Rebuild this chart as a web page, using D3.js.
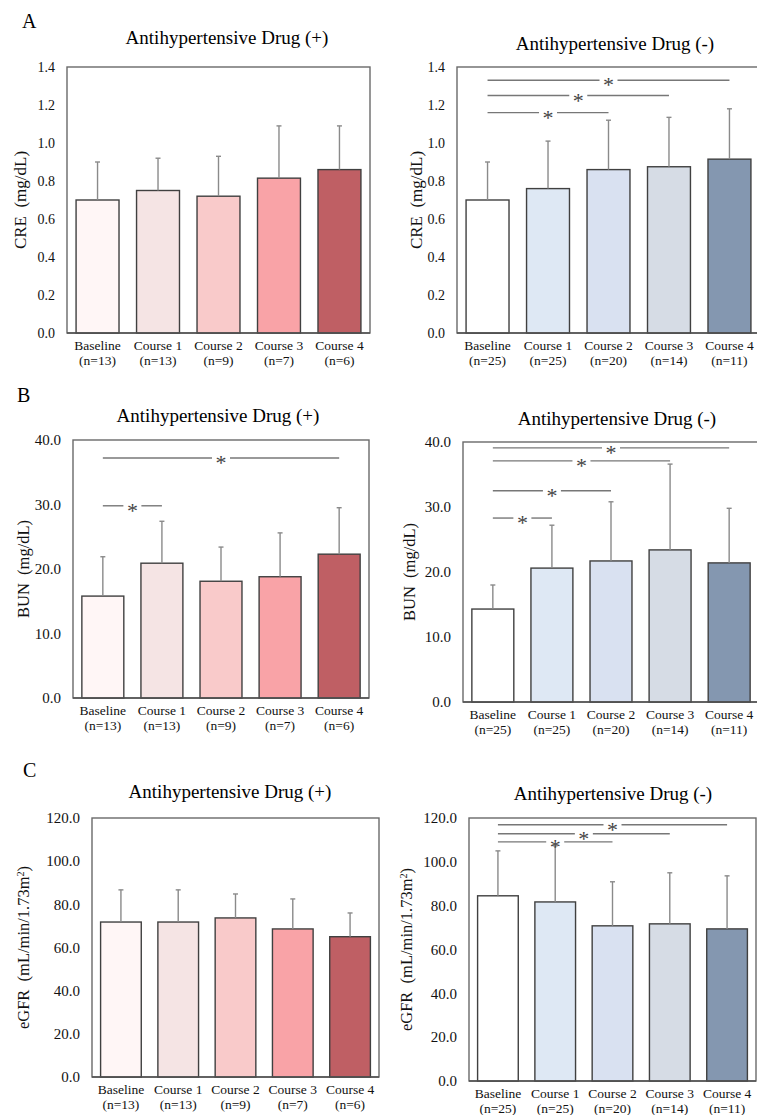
<!DOCTYPE html>
<html>
<head>
<meta charset="utf-8">
<script src="https://cdn.jsdelivr.net/npm/d3@7"></script>
<style>
  body { margin: 0; background: #fff; }
  svg { display: block; font-family: "Liberation Serif", "Times New Roman", serif; }
</style>
</head>
<body>
<svg id="chart"></svg>
<script>
const width = 757;
const height = 1115;

const categories = ['Baseline', 'Course 1', 'Course 2', 'Course 3', 'Course 4'];
const nPlus = ['(n=13)', '(n=13)', '(n=9)', '(n=7)', '(n=6)'];
const nMinus = ['(n=25)', '(n=25)', '(n=20)', '(n=14)', '(n=11)'];

const colorsPlus = ['#fff6f6', '#f5e4e4', '#f9caca', '#f9a3a7', '#bf5f64'];
const colorsMinus = ['#ffffff', '#dee8f4', '#d9e1f1', '#d6dce5', '#8497b0'];

// mean and SD
const crePlusMean = [0.70, 0.75, 0.72, 0.815, 0.86];
const crePlusSd = [0.20, 0.17, 0.21, 0.275, 0.23];
const creMinusMean = [0.70, 0.76, 0.86, 0.875, 0.915];
const creMinusSd = [0.20, 0.25, 0.26, 0.26, 0.265];

const bunPlusMean = [15.8, 20.9, 18.1, 18.8, 22.3];
const bunPlusSd = [6.1, 6.5, 5.3, 6.8, 7.2];
const bunMinusMean = [14.3, 20.6, 21.7, 23.4, 21.4];
const bunMinusSd = [3.7, 6.6, 9.1, 13.2, 8.4];

const egfrPlusMean = [71.8, 71.8, 73.7, 68.6, 65.0];
const egfrPlusSd = [14.9, 14.9, 11.1, 13.9, 11.0];
const egfrMinusMean = [84.5, 81.7, 70.8, 71.7, 69.4];
const egfrMinusSd = [20.5, 25.6, 20.1, 23.3, 24.2];

// significance brackets: [from index, to index, height in data units]
const creMinusSig = [[0, 4, 1.33], [0, 3, 1.25], [0, 2, 1.16]];
const bunPlusSig = [[0, 4, 37.2], [0, 1, 29.8]];
const bunMinusSig = [[0, 4, 39.1], [0, 3, 37.1], [0, 2, 32.5], [0, 1, 28.3]];
const egfrMinusSig = [[0, 4, 116.9], [0, 3, 112.8], [0, 2, 109.1]];

const titlePlus = 'Antihypertensive Drug (+)';
const titleMinus = 'Antihypertensive Drug (-)';

const svg = d3.select('#chart')
    .attr('width', width)
    .attr('height', height);

const panels = [
    {letter: 'A', lx: 22, ly: 28, title: titlePlus, tx: 227, ty: 44, left: 67, right: 370, top: 67, bottom: 333,
     max: 1.4, step: 0.2, mean: crePlusMean, sd: crePlusSd, sig: [], colors: colorsPlus, n: nPlus,
     ylab: 'CRE', unit: '(mg/dL)', yx: 20, tickFs: 14, labFs: 17},
    {title: titleMinus, tx: 615, ty: 50, left: 457, right: 760, top: 67, bottom: 333,
     max: 1.4, step: 0.2, mean: creMinusMean, sd: creMinusSd, sig: creMinusSig, colors: colorsMinus, n: nMinus,
     ylab: 'CRE', unit: '(mg/dL)', yx: 416, tickFs: 14, labFs: 17},
    {letter: 'B', lx: 17, ly: 402, title: titlePlus, tx: 218, ty: 422, left: 73, right: 369, top: 440, bottom: 698,
     max: 40, step: 10, mean: bunPlusMean, sd: bunPlusSd, sig: bunPlusSig, colors: colorsPlus, n: nPlus,
     ylab: 'BUN', unit: '(mg/dL)', yx: 23, tickFs: 15, labFs: 16.5},
    {title: titleMinus, tx: 617, ty: 425, left: 463, right: 759, top: 442, bottom: 702,
     max: 40, step: 10, mean: bunMinusMean, sd: bunMinusSd, sig: bunMinusSig, colors: colorsMinus, n: nMinus,
     ylab: 'BUN', unit: '(mg/dL)', yx: 409, tickFs: 15, labFs: 16.5},
    {letter: 'C', lx: 23, ly: 777, title: titlePlus, tx: 230, ty: 798, left: 92, right: 379, top: 818, bottom: 1077,
     max: 120, step: 20, mean: egfrPlusMean, sd: egfrPlusSd, sig: [], colors: colorsPlus, n: nPlus,
     ylab: 'eGFR', unit: '(mL/min/1.73m', sup: '2', yx: 23, tickFs: 15, labFs: 16.5},
    {title: titleMinus, tx: 613, ty: 800, left: 469, right: 756, top: 818, bottom: 1081,
     max: 120, step: 20, mean: egfrMinusMean, sd: egfrMinusSd, sig: egfrMinusSig, colors: colorsMinus, n: nMinus,
     ylab: 'eGFR', unit: '(mL/min/1.73m', sup: '2', yx: 406, tickFs: 15, labFs: 16.5}
];

panels.forEach(drawPanel);

function drawPanel(p) {
    const g = svg.append('g');

    const x = d3.scaleBand().domain(categories).range([p.left, p.right])
        .paddingInner(0.29).paddingOuter(0.15);
    const y = d3.scaleLinear().domain([0, p.max]).range([p.bottom, p.top]);

    if (p.letter) {
        g.append('text').attr('x', p.lx).attr('y', p.ly)
            .attr('font-size', 20).attr('fill', '#000').text(p.letter);
    }

    g.append('text').attr('x', p.tx).attr('y', p.ty)
        .attr('text-anchor', 'middle').attr('font-size', 19).attr('fill', '#000')
        .text(p.title);

    // plot frame
    g.append('rect')
        .attr('x', p.left).attr('y', p.top)
        .attr('width', p.right - p.left).attr('height', p.bottom - p.top)
        .attr('fill', 'none').attr('stroke', '#6a6a6a').attr('stroke-width', 1.4);

    const yAxis = g.append('g')
        .attr('transform', `translate(${p.left},0)`)
        .call(d3.axisLeft(y)
            .tickValues(d3.range(0, p.max + p.step / 2, p.step))
            .tickFormat(d3.format('.1f'))
            .tickSize(0).tickPadding(12));
    yAxis.select('.domain').remove();
    yAxis.attr('font-family', null).attr('font-size', p.tickFs);
    yAxis.selectAll('text').attr('fill', '#111');

    // y label
    const lab = g.append('text')
        .attr('transform', `translate(${p.yx},${(p.top + p.bottom) / 2}) rotate(-90)`)
        .attr('text-anchor', 'middle').attr('font-size', p.labFs).attr('fill', '#111')
        .attr('dy', '0.35em');
    lab.append('tspan').text(p.ylab + '\u00a0\u00a0' + p.unit);
    if (p.sup) {
        lab.append('tspan').attr('font-size', p.labFs * 0.62).attr('baseline-shift', 'super').text(p.sup);
        lab.append('tspan').text(')');
    }

    // bars
    g.selectAll('rect.bar')
        .data(categories)
        .enter()
        .append('rect')
        .attr('class', 'bar')
        .attr('x', d => x(d))
        .attr('y', (d, i) => y(p.mean[i]))
        .attr('width', x.bandwidth())
        .attr('height', (d, i) => p.bottom - y(p.mean[i]))
        .attr('fill', (d, i) => p.colors[i])
        .attr('stroke', '#404040')
        .attr('stroke-width', 1.4);

    // error bars (upper only)
    categories.forEach((c, i) => {
        const cx = x(c) + x.bandwidth() / 2;
        g.append('line')
            .attr('x1', cx).attr('x2', cx)
            .attr('y1', y(p.mean[i])).attr('y2', y(p.mean[i] + p.sd[i]))
            .attr('stroke', '#8a8a8a').attr('stroke-width', 1.4);
        g.append('line')
            .attr('x1', cx - 2.5).attr('x2', cx + 2.5)
            .attr('y1', y(p.mean[i] + p.sd[i])).attr('y2', y(p.mean[i] + p.sd[i]))
            .attr('stroke', '#8a8a8a').attr('stroke-width', 1.4);
    });

    // x axis line
    g.append('line')
        .attr('x1', p.left).attr('x2', p.right)
        .attr('y1', p.bottom).attr('y2', p.bottom)
        .attr('stroke', '#505050').attr('stroke-width', 1.7);

    // x labels, two lines
    categories.forEach((c, i) => {
        const cx = x(c) + x.bandwidth() / 2;
        g.append('text').attr('x', cx).attr('y', p.bottom + 17)
            .attr('text-anchor', 'middle').attr('font-size', 13.5).attr('fill', '#111').text(c);
        g.append('text').attr('x', cx).attr('y', p.bottom + 32)
            .attr('text-anchor', 'middle').attr('font-size', 13.5).attr('fill', '#111').text(p.n[i]);
    });

    // significance brackets
    p.sig.forEach(s => {
        const x1 = x(categories[s[0]]) + x.bandwidth() / 2;
        const x2 = x(categories[s[1]]) + x.bandwidth() / 2;
        const mid = (x1 + x2) / 2;
        const yy = y(s[2]);
        const gap = 9;
        g.append('line').attr('x1', x1).attr('x2', mid - gap)
            .attr('y1', yy).attr('y2', yy)
            .attr('stroke', '#777').attr('stroke-width', 1.4);
        g.append('line').attr('x1', mid + gap).attr('x2', x2)
            .attr('y1', yy).attr('y2', yy)
            .attr('stroke', '#777').attr('stroke-width', 1.4);
        g.append('text').attr('x', mid).attr('y', yy + 12)
            .attr('text-anchor', 'middle').attr('font-size', 22).attr('fill', '#444').text('*');
    });
}
</script>
</body>
</html>
